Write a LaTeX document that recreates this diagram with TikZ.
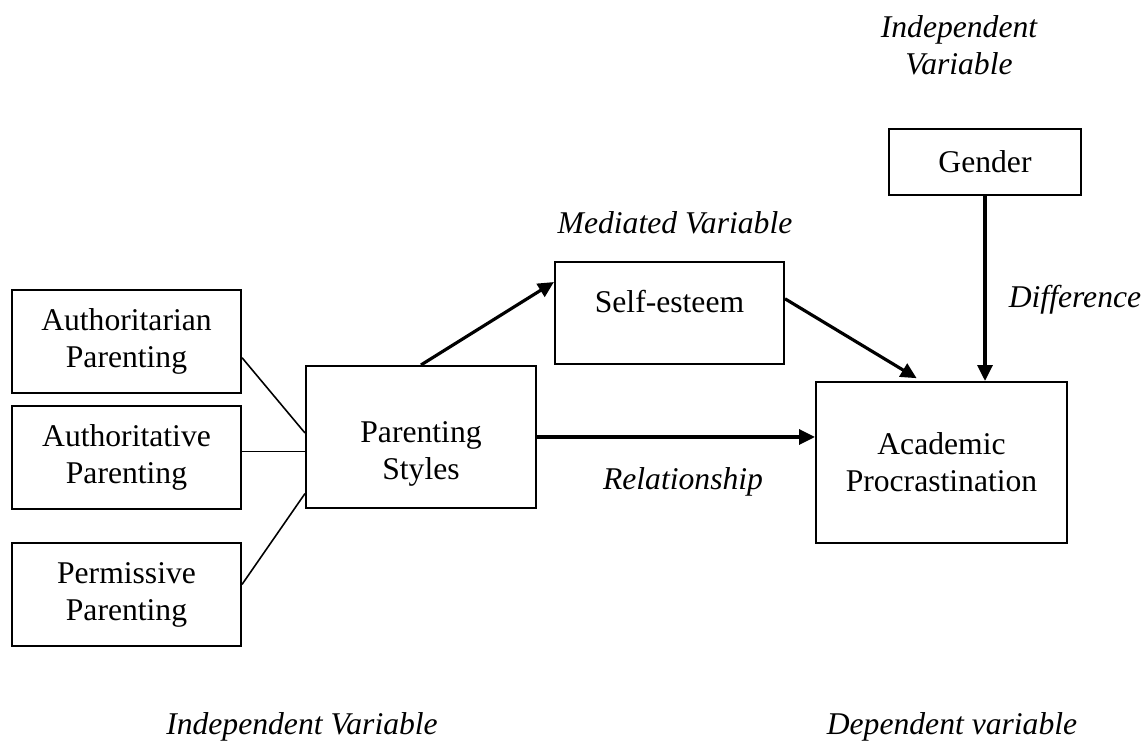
\documentclass[tikz,border=0pt]{standalone}
\usepackage{fontspec}
\setmainfont{Liberation Serif}
\usetikzlibrary{arrows.meta}
\begin{document}
\begin{tikzpicture}
	\tikzstyle{every node}=[font=\fontsize{18}{21}\selectfont]
	\tikzstyle{box}=[draw,line width=1.2pt,align=center,inner sep=0pt]
	\tikzstyle{lbl}=[font=\fontsize{18}{21}\selectfont\itshape,align=center]
	\tikzstyle{arr}=[line width=1.8pt,-{Triangle[length=9pt,width=8.5pt]}]
	\useasboundingbox (0,0) rectangle (22.94,14.92);
	% boxes
	\node[box,minimum width=4.58cm,minimum height=2.06cm] (auth) at (2.53,8.09) {Authoritarian\\Parenting};
	\node[box,minimum width=4.58cm,minimum height=2.06cm] (autht) at (2.53,5.77) {Authoritative\\Parenting};
	\node[box,minimum width=4.58cm,minimum height=2.06cm] (perm) at (2.53,3.03) {Permissive\\Parenting};
	\node[box,minimum width=4.6cm,minimum height=2.84cm,
		label={[align=center,yshift=-0.34cm]center:Parenting\\Styles}] (styles) at (8.42,6.18) {};
	\node[box,minimum width=4.58cm,minimum height=2.04cm,
		label={[yshift=0.22cm]center:Self-esteem}] (esteem) at (13.39,8.66) {};
	\node[box,minimum width=3.84cm,minimum height=1.32cm] (gender) at (19.7,11.68) {Gender};
	\node[box,minimum width=5.02cm,minimum height=3.22cm] (acad) at (18.83,5.67) {Academic\\Procrastination};
	% labels
	\node[lbl] (indtop) at (19.18,14.02) {Independent\\Variable};
	\node[lbl] (med) at (13.5,10.46) {Mediated Variable};
	\node[lbl] (diff) at (21.5,8.92) {Difference};
	\node[lbl] (rel) at (13.66,5.28) {Relationship};
	\node[lbl] (indbot) at (6.04,0.38) {Independent Variable};
	\node[lbl] (dep) at (19.04,0.38) {Dependent variable};
	% connectors
	\draw[line width=0.9pt] (auth.-8) -- (styles.178);
	\draw[line width=0.9pt] (autht.3) -- (autht.3 -| styles.west);
	\draw[line width=0.9pt] (perm.5) -- (styles.206);
	\draw[arr] (styles.north) -- (esteem.165);
	\draw[arr,shorten >=3pt] (esteem.7) -- (acad.104);
	\draw[arr] (gender.south) -- (gender.south |- acad.north);
	\draw[arr] (styles.east) -- (styles.east -| acad.west);
\end{tikzpicture}
\end{document}
